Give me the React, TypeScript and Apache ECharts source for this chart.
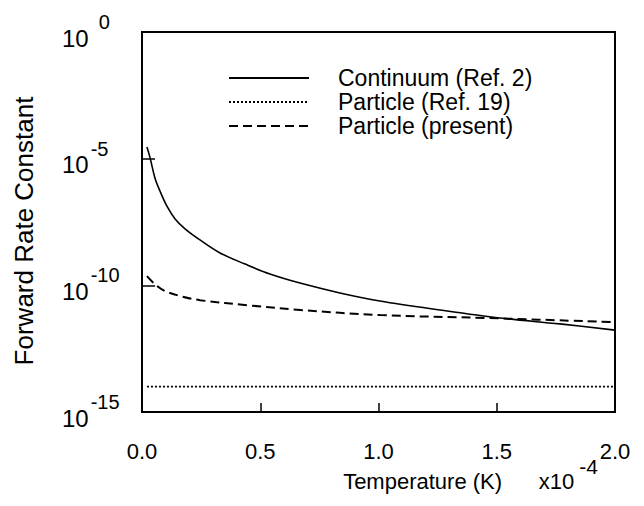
import React, { useEffect, useRef } from "react";
import * as echarts from "echarts";

// Temperature values (x10^-4 K)
const continuumT = [0.021, 0.034, 0.055, 0.076, 0.106, 0.14, 0.182, 0.245, 0.33, 0.436, 0.541, 0.668, 0.837, 1.006, 1.26, 1.515, 1.767, 2.0];
const continuumK = [2.9e-5, 1.1e-5, 1.7e-6, 5.3e-7, 1.3e-7, 4.2e-8, 1.7e-8, 6.2e-9, 1.9e-9, 6.9e-10, 2.8e-10, 1.23e-10, 5.0e-11, 2.4e-11, 1.06e-11, 5.1e-12, 3.0e-12, 1.7e-12];

const particleRefT = [0.021, 2.0];
const particleRefK = [1e-14, 1e-14];

const particlePresentT = [0.021, 0.055, 0.097, 0.161, 0.245, 0.457, 0.668, 1.006, 1.47, 2.0];
const particlePresentK = [2.3e-10, 1.1e-10, 6e-11, 3.8e-11, 2.6e-11, 1.6e-11, 1.07e-11, 6.7e-12, 5.1e-12, 3.5e-12];

const seriesNames = ["Continuum (Ref. 2)", "Particle (Ref. 19)", "Particle (present)"];
const xTicks = { min: 0, max: 2, interval: 0.5 };
const yTicks = { min: 1e-15, max: 1, interval: 5 };

const FONT = "'Liberation Sans', Arial, Helvetica, sans-serif";

const pairs = (xs: number[], ys: number[]) => xs.map((x, i) => [x, ys[i]]);

export default function App() {
  const ref = useRef<HTMLDivElement>(null);
  useEffect(() => {
    document.body.style.margin = "0";
    if (!ref.current) return;
    const chart = echarts.init(ref.current, undefined, { renderer: "svg" });
    chart.setOption({
      animation: false,
      backgroundColor: "#fff",
      textStyle: { fontFamily: FONT, color: "#000" },
      grid: {
        left: 142,
        right: 29,
        top: 32,
        bottom: 94,
        show: true,
        borderColor: "#000",
        borderWidth: 2,
      },
      legend: {
        orient: "vertical",
        left: 228,
        top: 66,
        padding: 0,
        itemWidth: 80,
        itemHeight: 14,
        itemGap: 0,
        selectedMode: false,
        data: seriesNames,
        itemStyle: { color: "rgba(0,0,0,0)", opacity: 0, borderWidth: 0 },
        textStyle: {
          fontFamily: FONT,
          fontSize: 23,
          lineHeight: 24,
          color: "#000",
          padding: [0, 0, 0, 24],
        },
      },
      xAxis: {
        type: "value",
        min: xTicks.min,
        max: xTicks.max,
        interval: xTicks.interval,
        axisLine: { lineStyle: { color: "#000", width: 2 } },
        axisTick: { inside: true, length: 9, lineStyle: { color: "#000", width: 1.5 } },
        splitLine: { show: false },
        axisLabel: {
          fontFamily: FONT,
          fontSize: 22,
          color: "#000",
          margin: 28,
          formatter: (v: number) => v.toFixed(1),
        },
        name: "{t|Temperature (K)      x10}{s|-4}",
        nameLocation: "middle",
        nameGap: 51,
        nameMoveOverlap: false,
        nameTextStyle: {
          padding: [0, 0, 0, 184],
          rich: {
            t: { fontFamily: FONT, fontSize: 22, color: "#000", lineHeight: 22, padding: [14, 0, 0, 0] },
            s: { fontFamily: FONT, fontSize: 21, color: "#000", lineHeight: 21, padding: [0, 0, 15, 5] },
          },
        },
      },
      yAxis: {
        type: "log",
        logBase: 10,
        min: yTicks.min,
        max: yTicks.max,
        interval: yTicks.interval,
        axisLine: { lineStyle: { color: "#000", width: 2 } },
        axisTick: { inside: true, length: 13, lineStyle: { color: "#000", width: 1.5 } },
        minorTick: { show: false },
        splitLine: { show: false },
        axisLabel: {
          align: "left",
          margin: 80,
          formatter: (v: number) => {
            const e = Math.round(Math.log10(v));
            return e === 0 ? "{b|10}{s0|0}" : `{b|10}{s|${e}}`;
          },
          rich: {
            b: { fontFamily: FONT, fontSize: 24, color: "#000", lineHeight: 24, padding: [12, 0, 0, 0] },
            s: { fontFamily: FONT, fontSize: 20, color: "#000", lineHeight: 20, padding: [0, 0, 20, 2] },
            s0: { fontFamily: FONT, fontSize: 20, color: "#000", lineHeight: 20, padding: [0, 0, 20, 10] },
          },
        },
        name: "Forward Rate Constant",
        nameLocation: "middle",
        nameGap: 105,
        nameMoveOverlap: false,
        nameTextStyle: {
          fontFamily: FONT,
          fontSize: 26,
          color: "#000",
          padding: [0, 18, 0, 0],
        },
      },
      series: [
        {
          name: seriesNames[0],
          type: "line",
          smooth: 0.35,
          symbol: "none",
          data: pairs(continuumT, continuumK),
          lineStyle: { color: "#000", width: 1.6, type: "solid" },
          itemStyle: { color: "#000" },
        },
        {
          name: seriesNames[1],
          type: "line",
          symbol: "none",
          data: pairs(particleRefT, particleRefK),
          lineStyle: { color: "#000", width: 1.8, type: [2, 2] },
          itemStyle: { color: "#000" },
        },
        {
          name: seriesNames[2],
          type: "line",
          smooth: 0.35,
          symbol: "none",
          data: pairs(particlePresentT, particlePresentK),
          lineStyle: { color: "#000", width: 2, type: [9, 5] },
          itemStyle: { color: "#000" },
        },
      ],
    });
    return () => chart.dispose();
  }, []);
  return <div ref={ref} style={{ width: 644, height: 506 }} />;
}
